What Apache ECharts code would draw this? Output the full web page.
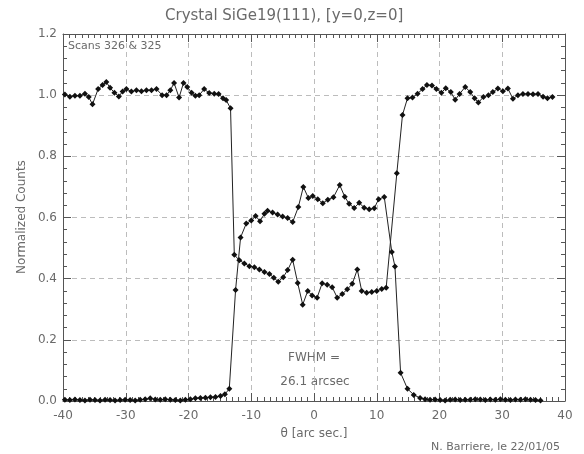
<!DOCTYPE html>
<html lang="en">
<head>
<meta charset="UTF-8">
<title>Crystal SiGe19(111)</title>
<script src="https://cdn.jsdelivr.net/npm/echarts@6/dist/echarts.min.js"></script>
<style>
  html, body { margin: 0; padding: 0; background: #fff; }
  #chart { width: 584px; height: 454px; }
</style>
</head>
<body>
<div id="chart"></div>
<script>
// transmitted beam (1 outside the band, ~0.4 inside)
var thetaT = [-39.7,-38.9,-38.1,-37.3,-36.5,-35.9,-35.3,-34.4,-33.7,-33.1,-32.5,-31.8,-31.1,-30.5,-29.9,-29.1,-28.3,-27.5,-26.7,-25.9,-25.1,-24.2,-23.5,-22.9,-22.3,-21.5,-20.8,-20.2,-19.5,-18.9,-18.3,-17.5,-16.7,-15.9,-15.2,-14.5,-14.0,-13.3,
  -12.7,-11.9,-11.1,-10.3,-9.5,-8.7,-7.9,-7.1,-6.4,-5.7,-4.9,-4.2,-3.4,-2.6,-1.8,-1.0,-0.3,0.5,1.3,2.1,2.9,3.7,4.5,5.3,6.1,6.9,7.6,8.4,9.2,10.0,10.8,11.5,
  13.2,14.1,14.9,15.7,16.5,17.3,18.0,18.8,19.5,20.3,21.0,21.8,22.5,23.2,24.1,24.9,25.6,26.2,27.0,27.8,28.5,29.3,30.1,30.9,31.7,32.5,33.3,34.1,34.9,35.7,36.5,37.2,38.0];
var countsT = [1.002,0.995,0.998,0.998,1.005,0.994,0.970,1.020,1.033,1.043,1.024,1.008,0.996,1.012,1.020,1.012,1.016,1.013,1.016,1.016,1.020,1.000,1.000,1.016,1.040,0.992,1.040,1.027,1.008,0.998,1.000,1.020,1.007,1.005,1.004,0.990,0.984,0.957,
  0.478,0.460,0.450,0.441,0.437,0.430,0.422,0.415,0.403,0.390,0.405,0.428,0.462,0.386,0.315,0.360,0.345,0.338,0.385,0.380,0.372,0.338,0.350,0.365,0.383,0.430,0.360,0.354,0.356,0.360,0.366,0.370,
  0.745,0.935,0.990,0.992,1.005,1.020,1.033,1.032,1.020,1.008,1.023,1.010,0.985,1.004,1.027,1.010,0.990,0.976,0.994,1.000,1.010,1.022,1.013,1.022,0.988,1.000,1.004,1.004,1.003,1.004,0.995,0.990,0.994];

// diffracted beam (0 outside the band, ~0.65 inside)
var thetaD = [-39.7,-38.9,-38.1,-37.3,-36.5,-35.7,-34.9,-34.1,-33.3,-32.5,-31.7,-30.9,-30.1,-29.3,-28.5,-27.7,-26.9,-26.1,-25.3,-24.5,-23.7,-22.9,-22.1,-21.3,-20.5,-19.7,-18.9,-18.1,-17.3,-16.5,-15.7,-14.9,-14.2,-13.5,
  -12.5,-11.7,-10.8,-10.0,-9.3,-8.6,-7.9,-7.4,-6.6,-5.8,-5.0,-4.2,-3.4,-2.5,-1.7,-0.9,-0.2,0.6,1.4,2.2,3.1,4.1,4.9,5.6,6.4,7.2,8.0,8.8,9.6,10.3,11.2,12.4,12.9,13.8,14.9,15.9,16.9,
  17.7,18.5,19.3,20.1,20.9,21.7,22.5,23.3,24.1,24.9,25.7,26.5,27.3,28.1,28.9,29.7,30.5,31.3,32.1,32.9,33.7,34.5,35.3,36.1];
var countsD = [0.004,0.003,0.005,0.003,0.002,0.004,0.003,0.002,0.004,0.003,0.002,0.003,0.004,0.003,0.002,0.004,0.006,0.009,0.005,0.004,0.006,0.004,0.003,0.002,0.004,0.006,0.009,0.010,0.011,0.012,0.013,0.016,0.022,0.040,
  0.363,0.535,0.580,0.590,0.605,0.588,0.612,0.622,0.616,0.610,0.603,0.598,0.585,0.634,0.700,0.664,0.670,0.660,0.647,0.658,0.666,0.706,0.668,0.645,0.631,0.648,0.632,0.627,0.630,0.660,0.667,0.487,0.440,0.092,0.040,0.020,0.010,
  0.006,0.004,0.005,0.003,0.002,0.004,0.005,0.003,0.004,0.004,0.006,0.005,0.003,0.005,0.004,0.006,0.004,0.003,0.005,0.004,0.006,0.004,0.003,0.002];

var xTicks = [-40, -30, -20, -10, 0, 10, 20, 30, 40];
var yTicks = [0.0, 0.2, 0.4, 0.6, 0.8, 1.0, 1.2];

function pairs(xs, ys) {
  var out = [];
  for (var i = 0; i < xs.length; i++) out.push([xs[i], ys[i]]);
  return out;
}

var txt = '#6a6a6a';
var axisCol = '#555';
var fontFam = 'DejaVu Sans, sans-serif';

function xAxisDef(pos, labels) {
  return {
    type: 'value', position: pos,
    min: xTicks[0], max: xTicks[xTicks.length - 1], interval: 10,
    axisLine: { show: true, onZero: false, lineStyle: { color: axisCol, width: 1 } },
    axisTick: { show: true, inside: true, length: 8, lineStyle: { color: axisCol } },
    minorTick: { show: true, splitNumber: 10, length: 4, lineStyle: { color: axisCol } },
    axisLabel: { show: labels, color: txt, fontSize: 12, fontFamily: fontFam, margin: 9 },
    splitLine: { show: labels, lineStyle: { color: '#bcbcbc', type: [5, 4], width: 1 } }
  };
}
function yAxisDef(pos, labels) {
  return {
    type: 'value', position: pos,
    min: yTicks[0], max: yTicks[yTicks.length - 1], interval: 0.2,
    axisLine: { show: true, onZero: false, lineStyle: { color: axisCol, width: 1 } },
    axisTick: { show: true, inside: true, length: 8, lineStyle: { color: axisCol } },
    minorTick: { show: true, splitNumber: 5, length: 4, lineStyle: { color: axisCol } },
    axisLabel: { show: labels, color: txt, fontSize: 12, fontFamily: fontFam, margin: 6,
      formatter: function (v) { return v.toFixed(1); } },
    splitLine: { show: labels, lineStyle: { color: '#bcbcbc', type: [5, 4], width: 1 } }
  };
}

var option = {
  backgroundColor: '#fff',
  animation: false,
  grid: { left: 63, right: 19, top: 34, bottom: 53 },
  xAxis: [xAxisDef('bottom', true), xAxisDef('top', false)],
  yAxis: [yAxisDef('left', true), yAxisDef('right', false)],
  series: [
    {
      name: 'transmitted', type: 'line', data: pairs(thetaT, countsT),
      symbol: 'diamond', symbolSize: 6,
      lineStyle: { color: '#222', width: 1 },
      itemStyle: { color: '#111' }
    },
    {
      name: 'diffracted', type: 'line', data: pairs(thetaD, countsD),
      symbol: 'diamond', symbolSize: 6,
      lineStyle: { color: '#222', width: 1 },
      itemStyle: { color: '#111' }
    }
  ],
  graphic: [
    { type: 'text', left: 281 - 116, top: 9,
      style: { text: 'Crystal SiGe19(111), [y=0,z=0]', fill: txt, font: '15px ' + fontFam } },
    { type: 'text', left: 68, top: 41,
      style: { text: 'Scans 326 & 325', fill: txt, font: '11px ' + fontFam } },
    { type: 'text', x: 314, y: 358,
      style: { text: 'FWHM =', fill: txt, font: '12px ' + fontFam, align: 'center', verticalAlign: 'middle' } },
    { type: 'text', x: 315, y: 382,
      style: { text: '26.1 arcsec', fill: txt, font: '12px ' + fontFam, align: 'center', verticalAlign: 'middle' } },
    { type: 'text', x: 314, y: 434,
      style: { text: 'θ [arc sec.]', fill: txt, font: '12px ' + fontFam, align: 'center', verticalAlign: 'middle' } },
    { type: 'text', x: 560, y: 447,
      style: { text: 'N. Barriere, le 22/01/05', fill: txt, font: '11px ' + fontFam, align: 'right', verticalAlign: 'middle' } },
    { type: 'text', x: 22, y: 217, rotation: Math.PI / 2,
      style: { text: 'Normalized Counts', fill: txt, font: '12px ' + fontFam, align: 'center', verticalAlign: 'middle' } }
  ]
};

var myChart = echarts.init(document.getElementById('chart'), null, { renderer: 'canvas' });
myChart.setOption(option);
</script>
</body>
</html>
